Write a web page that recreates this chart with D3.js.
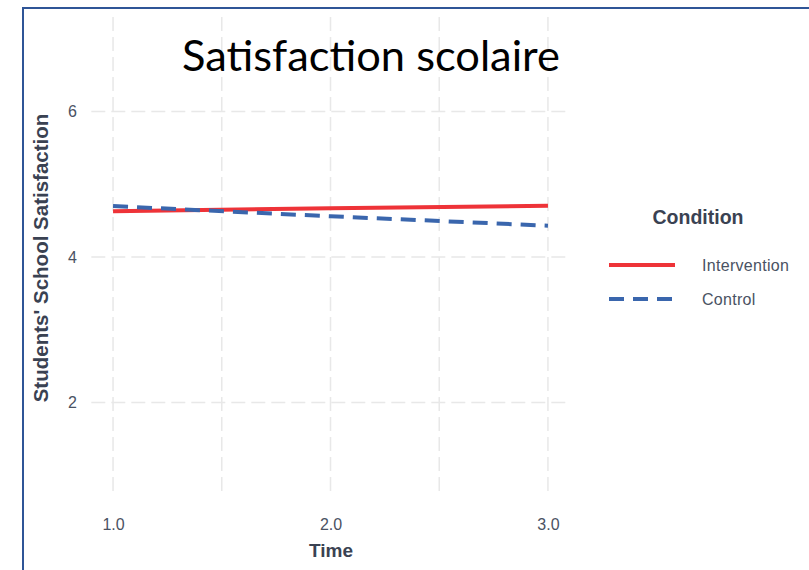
<!DOCTYPE html>
<html><head><meta charset="utf-8">
<script src="https://cdn.jsdelivr.net/npm/d3@7"></script>
<style>body{margin:0;background:#fff}svg{display:block}</style>
</head><body>
<script>
const times = [1, 2, 3];
const intervention = [4.63, 4.67, 4.705];
const control = [4.70, 4.56, 4.43];
const seriesNames = ["Intervention", "Control"];
const xTicks = [1.0, 2.0, 3.0];
const xGrid = [1.0, 1.5, 2.0, 2.5, 3.0];
const yTicks = [2, 4, 6];
const title = "Satisfaction scolaire";
const xTitle = "Time";
const yTitle = "Students' School Satisfaction";
const legendTitle = "Condition";

const W = 809, H = 570;
const svg = d3.select("body").append("svg").attr("width", W).attr("height", H);
svg.append("rect").attr("width", W).attr("height", H).attr("fill", "#fff");

const x = d3.scaleLinear().domain([0.9, 3.1]).range([91.3, 569.7]);
const y = d3.scaleLinear().domain([0.7, 7.3]).range([497, 17]);

const gridColor = "#e8e8e8";
const g = svg.append("g");
g.selectAll("line.vg").data(xGrid).join("line")
  .attr("x1", d => x(d)).attr("x2", d => x(d))
  .attr("y1", y(7.3)).attr("y2", y(0.7))
  .attr("stroke", gridColor).attr("stroke-width", 1.5).attr("stroke-dasharray", "14 6");
g.selectAll("line.hg").data(yTicks).join("line")
  .attr("y1", d => y(d)).attr("y2", d => y(d))
  .attr("x1", x(0.9)).attr("x2", x(3.1))
  .attr("stroke", gridColor).attr("stroke-width", 1.5).attr("stroke-dasharray", "14 6");

// axes
const tickColor = "#4a5263";
const xAxis = svg.append("g").attr("transform", `translate(0,${519})`)
  .call(d3.axisBottom(x).tickValues(xTicks).tickFormat(d3.format(".1f")).tickSize(0));
xAxis.select(".domain").remove();
xAxis.attr("font-size", null).attr("font-family", null);
xAxis.selectAll("text").attr("fill", tickColor)
  .style("font-family", "'Liberation Sans', Arial, sans-serif")
  .style("font-size", "16px").attr("dy", "0.71em").attr("y", 0);

const yAxis = svg.append("g").attr("transform", `translate(${77},0)`)
  .call(d3.axisLeft(y).tickValues(yTicks).tickFormat(d3.format("d")).tickSize(0));
yAxis.select(".domain").remove();
yAxis.attr("font-size", null).attr("font-family", null);
yAxis.selectAll("text").attr("fill", tickColor)
  .style("font-family", "'Liberation Sans', Arial, sans-serif")
  .style("font-size", "16px").attr("x", 0);

// lines
const colors = ["#ee3338", "#3a66ad"];
const dashes = [null, "15 9"];
const data = [intervention, control];
const line = d3.line().x((d, i) => x(times[i])).y(d => y(d));
data.forEach((vals, k) => {
  svg.append("path").datum(vals).attr("d", line)
    .attr("fill", "none").attr("stroke", colors[k]).attr("stroke-width", 4)
    .attr("stroke-dasharray", dashes[k]);
});

// titles
svg.append("text").attr("x", 182).attr("y", 71).text(title)
  .attr("font-family", "Lato, 'Noto Sans', sans-serif").attr("font-size", 42).attr("fill", "#000")
  .each(function(){ const w = this.getComputedTextLength(); d3.select(this).attr("font-size", 42 * 378 / w); });

svg.append("text").attr("x", 331).attr("y", 557).attr("text-anchor", "middle").text(xTitle)
  .attr("font-family", "Liberation Sans, Arial, sans-serif").attr("font-weight", "bold")
  .attr("font-size", 19).attr("fill", "#3a4252");

svg.append("text").attr("transform", `translate(48,258) rotate(-90)`).attr("text-anchor", "middle").text(yTitle)
  .attr("font-family", "Liberation Sans, Arial, sans-serif").attr("font-weight", "bold")
  .attr("font-size", 19).attr("fill", "#3a4252")
  .each(function(){ const w = this.getComputedTextLength(); d3.select(this).attr("font-size", 19 * 289 / w); });

// legend
svg.append("text").attr("x", 698).attr("y", 224).attr("text-anchor", "middle").text(legendTitle)
  .attr("font-family", "Liberation Sans, Arial, sans-serif").attr("font-weight", "bold")
  .attr("font-size", 19.5).attr("fill", "#3a4252");
const leg = svg.append("g");
seriesNames.forEach((name, k) => {
  const yy = 265 + k * 34;
  leg.append("line").attr("x1", 609).attr("x2", 675).attr("y1", yy).attr("y2", yy)
    .attr("stroke", colors[k]).attr("stroke-width", 4).attr("stroke-dasharray", dashes[k]);
  leg.append("text").attr("x", 702).attr("y", yy + 6).text(name)
    .attr("font-family", "Liberation Sans, Arial, sans-serif").attr("font-size", 16)
    .attr("letter-spacing", 0.3).attr("fill", tickColor);
});

// frame border
svg.append("path").attr("d", `M23,${H+2} L23,8 L${W+2},8`).attr("fill", "none")
  .attr("stroke", "#2f5597").attr("stroke-width", 2);
</script>
</body></html>
